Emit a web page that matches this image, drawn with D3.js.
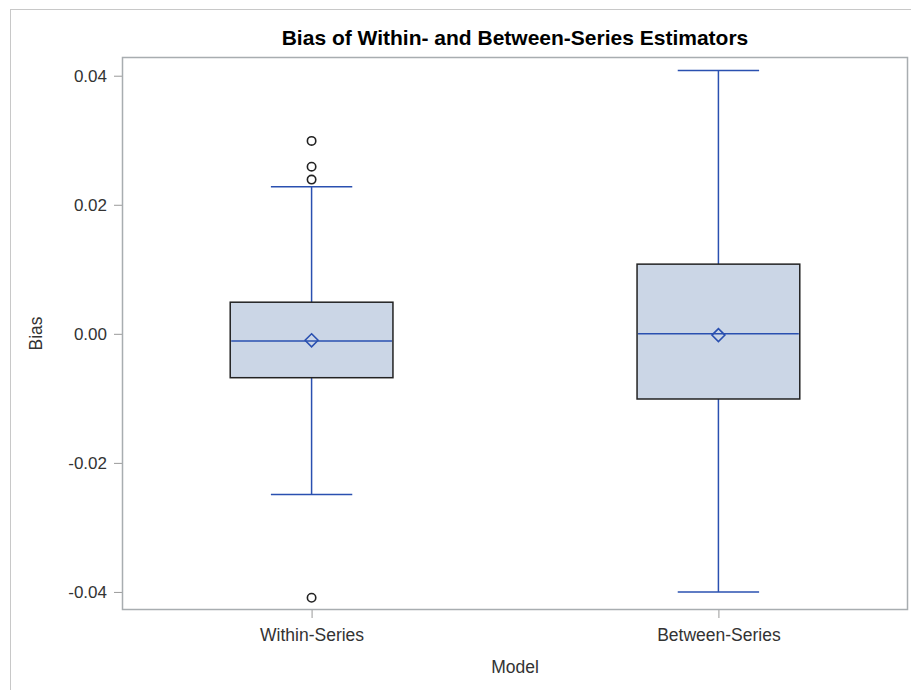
<!DOCTYPE html>
<html>
<head>
<meta charset="utf-8">
<script src="https://cdn.jsdelivr.net/npm/d3@7"></script>
<style>
  html, body { margin: 0; padding: 0; background: #fff; }
  svg { display: block; font-family: "Liberation Sans", Arial, sans-serif; }
</style>
</head>
<body>
<svg id="chart" width="911" height="690"></svg>
<script>
// Box plot summary statistics for each estimator
const categories = ["Within-Series", "Between-Series"];
const q1Values      = [-0.0068, -0.0101];
const medianValues  = [-0.0011,  0.0000];
const q3Values      = [ 0.0049,  0.0108];
const meanValues    = [-0.0010, -0.0002];
const whiskerLow    = [-0.0249, -0.0400];
const whiskerHigh   = [ 0.0228,  0.0408];
const outlierValues = [[0.0299, 0.0259, 0.0239, -0.0409], []];
const yTickValues   = [-0.04, -0.02, 0.00, 0.02, 0.04];

const titleText = "Bias of Within- and Between-Series Estimators";
const xLabel = "Model";
const yLabel = "Bias";

const svg = d3.select("#chart");
const W = 911, H = 690;

// Outer graph frame
svg.append("rect")
  .attr("x", 10.5).attr("y", 9.5)
  .attr("width", W + 10).attr("height", H + 10)
  .attr("fill", "#fff")
  .attr("stroke", "#c8c8c8").attr("stroke-width", 1);

const plot = { left: 122, right: 908, top: 57, bottom: 610 };

const y = d3.scaleLinear()
  .domain([-0.0428, 0.0429])
  .range([plot.bottom, plot.top]);

const x = d3.scalePoint()
  .domain(categories)
  .range([plot.left, plot.right])
  .padding(0.466);

const step = x.step();
const boxW = step * 0.4;
const capW = boxW * 0.5;

const blue = "#2a50b0";
const labelSize = 17.5;

// Title
svg.append("text")
  .attr("x", (plot.left + plot.right) / 2)
  .attr("y", 45)
  .attr("text-anchor", "middle")
  .attr("font-size", 21)
  .attr("font-weight", "bold")
  .attr("fill", "#000")
  .text(titleText);

// Y axis
const yAxis = d3.axisLeft(y)
  .tickValues(yTickValues)
  .tickFormat(d3.format(".2f"))
  .tickSize(8)
  .tickPadding(7);
const gy = svg.append("g")
  .attr("transform", `translate(${plot.left},0)`)
  .call(yAxis);
gy.select(".domain").remove();
gy.selectAll(".tick line").attr("stroke", "#9a9a9a");
gy.selectAll(".tick text")
  .attr("font-size", 17)
  .attr("fill", "#333")
  .attr("font-family", "'Liberation Sans', Arial, sans-serif")
  .text(d => d === 0 ? "0.00" : d3.format(".2f")(d).replace("−", "-"));

// X axis
const xAxis = d3.axisBottom(x).tickSize(8).tickPadding(11);
const gx = svg.append("g")
  .attr("transform", `translate(0,${plot.bottom})`)
  .call(xAxis);
gx.select(".domain").remove();
gx.selectAll(".tick line").attr("stroke", "#9a9a9a");
gx.selectAll(".tick text")
  .attr("font-size", labelSize)
  .attr("fill", "#333")
  .attr("font-family", "'Liberation Sans', Arial, sans-serif");

// Axis labels
svg.append("text")
  .attr("x", (plot.left + plot.right) / 2)
  .attr("y", 673)
  .attr("text-anchor", "middle")
  .attr("font-size", labelSize)
  .attr("fill", "#333")
  .text(xLabel);

svg.append("text")
  .attr("transform", `translate(42,${(plot.top + plot.bottom) / 2}) rotate(-90)`)
  .attr("text-anchor", "middle")
  .attr("font-size", labelSize)
  .attr("fill", "#333")
  .text(yLabel);

// Plot frame
svg.append("rect")
  .attr("x", plot.left + 0.5).attr("y", plot.top + 0.5)
  .attr("width", plot.right - plot.left - 1)
  .attr("height", plot.bottom - plot.top - 1)
  .attr("fill", "none")
  .attr("stroke", "#a8adb0").attr("stroke-width", 1.5);

// Boxes
const data = categories.map((c, i) => ({
  cat: c, q1: q1Values[i], med: medianValues[i], q3: q3Values[i],
  mean: meanValues[i], lo: whiskerLow[i], hi: whiskerHigh[i], out: outlierValues[i]
}));

const g = svg.append("g");
data.forEach(d => {
  const cx = x(d.cat);
  // whiskers
  g.append("line").attr("x1", cx).attr("x2", cx)
    .attr("y1", y(d.q3)).attr("y2", y(d.hi))
    .attr("stroke", blue).attr("stroke-width", 1.5);
  g.append("line").attr("x1", cx).attr("x2", cx)
    .attr("y1", y(d.q1)).attr("y2", y(d.lo))
    .attr("stroke", blue).attr("stroke-width", 1.5);
  g.append("line").attr("x1", cx - capW / 2).attr("x2", cx + capW / 2)
    .attr("y1", y(d.hi)).attr("y2", y(d.hi))
    .attr("stroke", blue).attr("stroke-width", 1.5);
  g.append("line").attr("x1", cx - capW / 2).attr("x2", cx + capW / 2)
    .attr("y1", y(d.lo)).attr("y2", y(d.lo))
    .attr("stroke", blue).attr("stroke-width", 1.5);
  // box
  g.append("rect")
    .attr("x", cx - boxW / 2).attr("y", y(d.q3))
    .attr("width", boxW).attr("height", y(d.q1) - y(d.q3))
    .attr("fill", "#cbd6e6")
    .attr("stroke", "#222").attr("stroke-width", 1.5);
  // median
  g.append("line").attr("x1", cx - boxW / 2 + 1).attr("x2", cx + boxW / 2 - 1)
    .attr("y1", y(d.med)).attr("y2", y(d.med))
    .attr("stroke", blue).attr("stroke-width", 1.5);
  // mean diamond
  const r = 6.5, my = y(d.mean);
  g.append("path")
    .attr("d", `M${cx},${my - r}L${cx + r},${my}L${cx},${my + r}L${cx - r},${my}Z`)
    .attr("fill", "none")
    .attr("stroke", blue).attr("stroke-width", 1.6);
  // outliers
  d.out.forEach(v => {
    g.append("circle")
      .attr("cx", cx).attr("cy", y(v)).attr("r", 4.2)
      .attr("fill", "none")
      .attr("stroke", "#222").attr("stroke-width", 1.6);
  });
});
</script>
</body>
</html>
